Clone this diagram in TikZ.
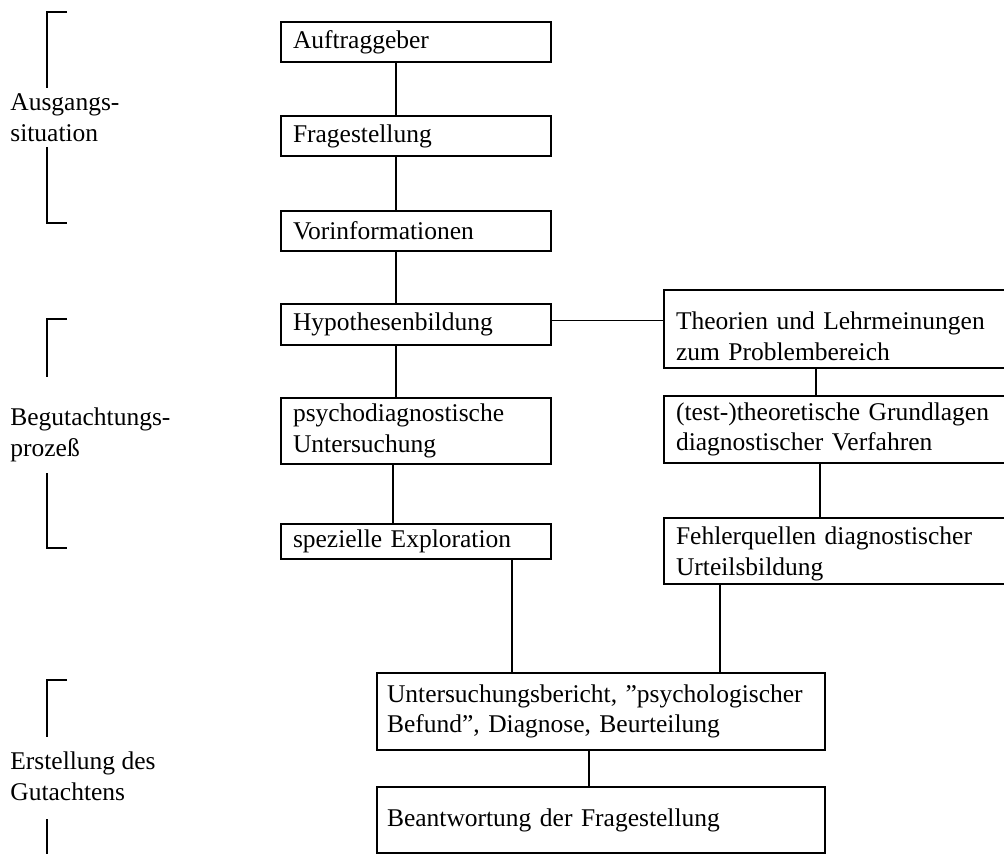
\documentclass[tikz,border=0pt]{standalone}
\usepackage{fontspec}
\setmainfont{Liberation Serif}
\begin{document}
\begin{tikzpicture}[x=0.5pt,y=-0.5pt,
  every node/.style={font=\fontsize{12.75pt}{15.4pt}\selectfont},
  box/.style={draw,line width=0.85pt,inner xsep=6pt,inner ysep=0pt,align=left},
  lbox/.style={box,minimum width=135pt,text width=123pt},
  rbox/.style={box,minimum width=173pt,text width=161pt},
  bbox/.style={box,inner xsep=5pt,minimum width=224pt,text width=214pt},
  lab/.style={inner sep=0pt,align=left,anchor=west},
  conn/.style={line width=0.85pt},
  brk/.style={line width=0.9pt}]
\useasboundingbox (0,0) rectangle (1004,854);
% boxes left column
\node[lbox,minimum height=20pt] (auf) at (416,42) {Auftraggeber};
\node[lbox,minimum height=20pt] (frage) at (416,136) {Fragestellung};
\node[lbox,minimum height=20pt] (vor) at (416,231) {Vorinformationen};
\node[lbox,minimum height=20.5pt] (hyp) at (416,324.5) {Hypothesenbildung};
\node[lbox,minimum height=33pt] (psy) at (416,431) {psychodiagnostische\\Untersuchung};
\node[lbox,minimum height=17.5pt] (spez) at (416,541.5) {spezielle Exploration};
% right column
\node[rbox,minimum height=39pt] (theo) at (837,329) {\rule{0pt}{16pt}Theorien und Lehrmeinungen\\zum Problembereich};
\node[rbox,minimum height=33.5pt] (test) at (837,429.5) {(test-)theoretische Grundlagen\\diagnostischer Verfahren};
\node[rbox,minimum height=33pt] (fehl) at (837,551) {\rule{0pt}{12pt}Fehlerquellen diagnostischer\\Urteilsbildung};
% bottom
\node[bbox,minimum height=38.5pt] (unt) at (601,711.5) {\hbox{Untersuchungsbericht, ”psychologischer}\\Befund”, Diagnose, Beurteilung};
\node[bbox,minimum height=33pt] (bea) at (601,820) {Beantwortung der Fragestellung};
% connector x positions
\coordinate (xa) at (396,0);
\coordinate (xb) at (393,0);
\coordinate (xc) at (816,0);
\coordinate (xd) at (820,0);
\coordinate (xe) at (512,0);
\coordinate (xf) at (720,0);
\coordinate (xg) at (589,0);
\draw[conn] (auf.south -| xa) -- (frage.north -| xa);
\draw[conn] (frage.south -| xa) -- (vor.north -| xa);
\draw[conn] (vor.south -| xa) -- (hyp.north -| xa);
\draw[conn] (hyp.south -| xa) -- (psy.north -| xa);
\draw[conn] (psy.south -| xb) -- (spez.north -| xb);
\draw[conn] ([yshift=2pt]hyp.east) -- ([yshift=2pt]hyp.east -| theo.west);
\draw[conn] (theo.south -| xc) -- (test.north -| xc);
\draw[conn] (test.south -| xd) -- (fehl.north -| xd);
\draw[conn] (spez.south -| xe) -- (unt.north -| xe);
\draw[conn] (fehl.south -| xf) -- (unt.north -| xf);
\draw[conn] (unt.south -| xg) -- (bea.north -| xg);
% left labels
\node[lab] (l1) at (10,118) {Ausgangs-\\situation};
\node[lab] (l2) at (10,435) {Begutachtungs-\\prozeß};
\node[lab] (l3) at (10,776) {Erstellung des\\Gutachtens};
% brackets
\draw[brk] (67,12) -- (47,12) -- (47,88);
\draw[brk] (47,147) -- (47,223) -- (67,223);
\draw[brk] (67,319) -- (47,319) -- (47,377);
\draw[brk] (47,473) -- (47,548) -- (67,548);
\draw[brk] (67,680) -- (47,680) -- (47,737);
\draw[brk] (47,819) -- (47,860);
\end{tikzpicture}
\end{document}
